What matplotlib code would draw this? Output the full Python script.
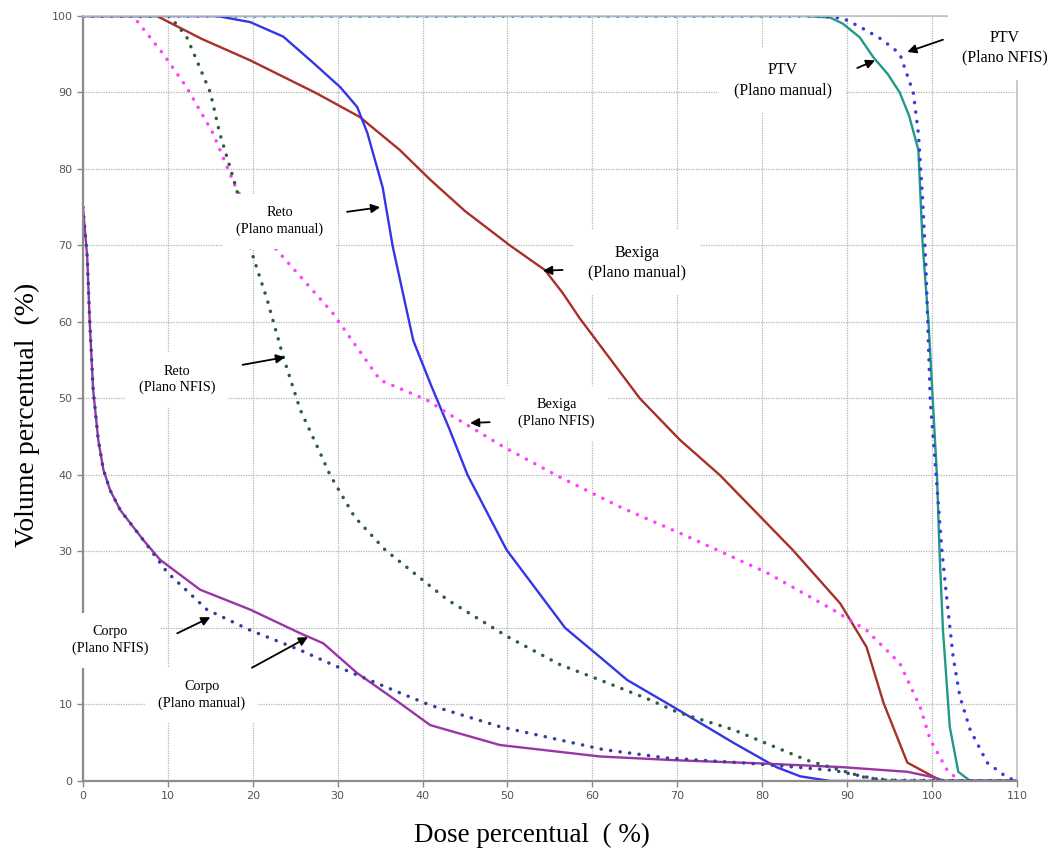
import numpy as np
import matplotlib
matplotlib.use("Agg")
import matplotlib.pyplot as plt

## PTV
ptv_manual_x = [0, 85, 88, 89.5, 91.5, 93.1, 94.8, 96.2, 97.3, 98.4, 98.9, 99.6, 100.1, 100.6, 100.9, 101.3, 102.1, 103.1, 104.5, 110]
ptv_manual_y = [100, 100, 99.8, 99, 97.2, 94.6, 92.4, 90, 87, 82.5, 70.3, 59.9, 49.8, 39.7, 29.8, 19.7, 7.1, 1.2, 0, 0]
ptv_nfis_x = [0, 87, 89.5, 91.5, 94, 96.2, 97.8, 98.4, 98.9, 99.3, 99.8, 100.6, 101.2, 101.8, 102.5, 103.3, 104.5, 106.5, 108.8, 110]
ptv_nfis_y = [100, 100, 99.7, 98.6, 97, 95.1, 90, 84.7, 76, 67, 49.8, 38.4, 29.8, 23.3, 16.2, 11, 6.7, 2.4, 0.5, 0]

## Bexiga
bexiga_manual_x = [0, 8.7, 14, 19.7, 27.5, 32.6, 37.3, 40.9, 45, 50.3, 54.4, 56.5, 58.5, 65.6, 70.3, 75, 83.6, 89.2, 92.3, 94.3, 97.1, 100.1, 101.2, 110]
bexiga_manual_y = [100, 100, 97, 94.2, 89.9, 86.8, 82.5, 78.6, 74.5, 70, 66.8, 63.8, 60.5, 50, 44.6, 40, 30.2, 23.2, 17.5, 10.2, 2.4, 0.6, 0, 0]
bexiga_nfis_x = [0, 5.9, 9.4, 12.2, 15.3, 18.1, 20.3, 22.6, 29.4, 35.0, 40.5, 42.9, 49.5, 56.2, 63.3, 70.3, 74.7, 80.6, 88.3, 92.3, 96.2, 98.6, 99.8, 101.8, 103.3, 110]
bexiga_nfis_y = [100, 100, 95.1, 90.7, 84.7, 77.3, 73.5, 69.7, 61.2, 52.4, 49.8, 48.1, 43.7, 39.7, 35.8, 32.4, 30.2, 27.2, 22.4, 19.7, 15.4, 9.7, 5.4, 1.4, 0, 0]

## Reto
reto_manual_x = [0, 15.8, 19.7, 23.6, 27, 30.3, 32.3, 33.5, 35.3, 36.5, 38.9, 40.9, 43.2, 45.3, 49.9, 56.8, 60.9, 64.1, 69.5, 76.6, 81.7, 84.5, 88, 110]
reto_manual_y = [100, 100, 99.2, 97.3, 94, 90.7, 88.1, 84.7, 77.6, 69.8, 57.6, 52, 45.9, 40, 30.2, 20, 16.2, 13.2, 9.7, 5, 1.8, 0.6, 0, 0]
reto_nfis_x = [0, 10.2, 12.2, 13.4, 15, 16.1, 17.3, 18.1, 19.7, 21.7, 23.6, 25.6, 27.6, 29.1, 32, 35.6, 42.9, 50.1, 56.2, 60.9, 66.8, 70, 76.6, 85.3, 92.3, 96.2, 110]
reto_nfis_y = [100, 100, 97.3, 94.2, 90, 84.7, 80.3, 77.3, 69.7, 62.9, 55.4, 48.5, 43.7, 40, 34.5, 30.2, 23.7, 18.8, 15.2, 13.2, 10.6, 9, 6.7, 2.7, 0.4, 0, 0]

## Corpo
corpo_manual_x = [0, 0.5, 0.8, 1.2, 1.8, 2.4, 3.2, 4.4, 7.1, 9.1, 13.8, 19.7, 25.6, 28.3, 32.3, 37.3, 40.9, 49.1, 60.9, 70, 79.7, 89.5, 97.1, 100.1, 101.5, 110]
corpo_manual_y = [75, 68.5, 59.9, 51.1, 44.6, 40.7, 38, 35.4, 31.5, 28.9, 25, 22.4, 19.3, 18, 14.1, 10.2, 7.3, 4.7, 3.2, 2.7, 2.3, 1.8, 1.2, 0.5, 0, 0]
corpo_nfis_x = [0, 0.5, 0.8, 1.2, 1.8, 2.4, 3.2, 4.4, 7.1, 9.9, 14.6, 19.7, 25.6, 29.4, 36.5, 40.9, 49.1, 61.3, 68.8, 78.6, 88.3, 94.2, 110]
corpo_nfis_y = [75, 68.5, 59.9, 51.1, 44.6, 40.7, 38, 35.4, 31.5, 27.3, 22.4, 19.7, 17.1, 15.2, 11.9, 9.9, 7.1, 4.1, 3.0, 2.3, 1.4, 0.1, 0]

## labels: text, text position, arrow tail, arrow head, font size
labels = [
	("PTV\n(Plano manual)", (82.4, 91.6), (91.2, 93.2), (93.3, 94.2), 11.5),
	("PTV\n(Plano NFIS)", (108.6, 95.9), (101.3, 96.9), (97.1, 95.3), 11.5),
	("Reto\n(Plano manual)", (23.2, 73.2), (31.1, 74.4), (35.0, 75.0), 10.3),
	("Reto\n(Plano NFIS)", (11.1, 52.5), (18.8, 54.4), (23.8, 55.4), 10.3),
	("Bexiga\n(Plano manual)", (65.3, 67.8), (56.5, 66.8), (54.2, 66.7), 11.5),
	("Bexiga\n(Plano NFIS)", (55.8, 48.1), (47.9, 46.9), (45.6, 46.8), 10.3),
	("Corpo\n(Plano NFIS)", (3.2, 18.4), (11.1, 19.3), (15.0, 21.4), 10.3),
	("Corpo\n(Plano manual)", (14.0, 11.2), (19.9, 14.8), (26.5, 18.8), 10.3),
]

fig = plt.figure(figsize=(10.57, 8.55), dpi=100)
ax = fig.add_axes([0.0785, 0.0866, 0.8835, 0.8947])

solid = dict(linewidth=1.7, solid_capstyle="round", solid_joinstyle="round")
dotted = dict(linewidth=2.5, linestyle=(0, (0.05, 2.7)), dash_capstyle="round")

ax.plot(ptv_manual_x, ptv_manual_y, color="#229988", **solid)
ax.plot(bexiga_manual_x, bexiga_manual_y, color="#a8302a", **solid)
ax.plot(reto_manual_x, reto_manual_y, color="#3535e8", **solid)
ax.plot(corpo_manual_x, corpo_manual_y, color="#9a35a8", **solid)
ax.plot(ptv_nfis_x, ptv_nfis_y, color="#3b3bdd", **dotted)
ax.plot(bexiga_nfis_x, bexiga_nfis_y, color="#ff40ff", **dotted)
ax.plot(reto_nfis_x, reto_nfis_y, color="#2e5e3e", **dotted)
ax.plot(corpo_nfis_x, corpo_nfis_y, color="#33409a", **dotted)

## axes
ax.set_xlim(0, 110)
ax.set_ylim(0, 100)
ax.set_xticks(np.arange(0, 111, 10))
ax.set_yticks(np.arange(0, 101, 10))
ax.grid(color="#b4b4b4", linestyle=(0, (1, 1)), linewidth=0.9)
ax.tick_params(labelsize=8, labelcolor="#555555", color="#888888", length=4, width=1)
for side in ["left", "bottom"]:
	ax.spines[side].set_color("#8c8c8c")
	ax.spines[side].set_linewidth(1.6)
for side in ["top", "right"]:
	ax.spines[side].set_color("#c0c0c0")
	ax.spines[side].set_linewidth(1.2)

## annotations
for text, pos, tail, head, size in labels:
	ax.text(
		pos[0],
		pos[1],
		text,
		ha="center",
		va="center",
		fontsize=size,
		family="Liberation Serif",
		linespacing=1.3,
		bbox=dict(boxstyle="square,pad=0.9", facecolor="white", edgecolor="none"),
		zorder=10,
		clip_on=False)
	ax.annotate(
		"",
		xy=head,
		xytext=tail,
		arrowprops=dict(arrowstyle="-|>", color="black", lw=1.3, mutation_scale=13, shrinkA=0, shrinkB=0),
		zorder=11)

fig.text(0.503, 0.0234, "Dose percentual  ( %)", ha="center", va="center", fontsize=19.5, family="Liberation Serif")
fig.text(0.026, 0.515, "Volume percentual  (%)", ha="center", va="center", rotation=90, fontsize=20, family="Liberation Serif")

fig.savefig("out.png", dpi=100, facecolor="white")
